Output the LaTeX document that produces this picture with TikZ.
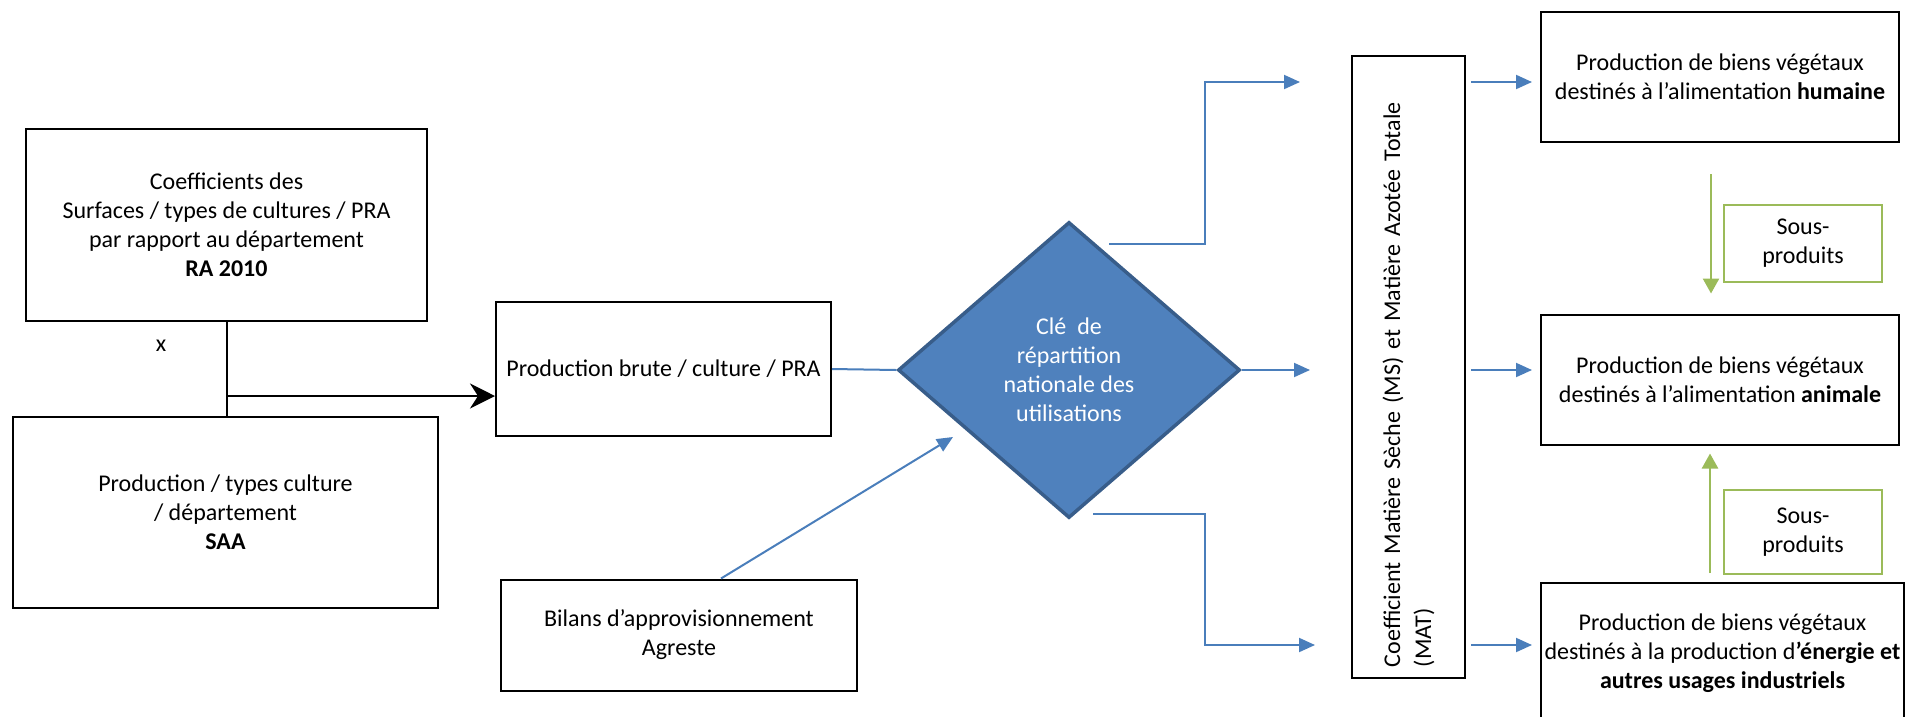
\documentclass[tikz,border=0pt]{standalone}
\usepackage{fontspec}
\setmainfont{Carlito}
\usetikzlibrary{shapes.geometric,arrows.meta,calc}
\definecolor{ablue}{HTML}{4A7EBB}
\definecolor{dfill}{HTML}{4F81BD}
\definecolor{dline}{HTML}{385D8A}
\definecolor{agreen}{HTML}{9BBB59}
\begin{document}
\begin{tikzpicture}[x=1pt,y=-1pt,
  txt/.style={font=\fontsize{24}{29}\selectfont},
  box/.style={draw=black,line width=2pt,align=center,inner sep=0pt,txt},
  gbox/.style={draw=agreen,line width=1.5pt,align=center,inner sep=0pt,minimum width=158pt,txt},
  bline/.style={draw=ablue,line width=2pt},
  barrow/.style={bline,-{Triangle[length=16pt,width=14pt]}},
  garrow/.style={draw=agreen,line width=2.5pt,-{Triangle[length=15pt,width=16pt]}},
  karrow/.style={draw=black,line width=2pt,-{Stealth[length=25pt,width=25pt,inset=8pt]}}]
\useasboundingbox (0,0) rectangle (1906,716);

% left boxes
\node[box,minimum width=401pt,minimum height=192pt] (box1) at (226.5,225)
  {Coefficients des\\Surfaces / types de cultures / PRA\\par rapport au département\\\textbf{RA 2010}};
\node[box,minimum width=425pt,minimum height=191pt] (box2) at (225.5,512.5)
  {Production / types culture\\/ département\\\textbf{SAA}};
\node[box,minimum width=335pt,minimum height=134pt] (box3) at (663.5,369)
  {Production brute / culture / PRA};
\node[box,minimum width=356pt,minimum height=111pt] (box4) at (679,635)
  {Bilans d’approvisionnement\\Agreste};
\node[txt] (xl) at (161,346) {x};

% diamond
\node[diamond,fill=dfill,draw=dline,line width=3.5pt,minimum width=342pt,minimum height=296pt,
  inner sep=0pt,text=white,align=center,txt] (dia) at (1069,370)
  {Clé~~de\\répartition\\nationale des\\utilisations};

% MS box
\node[draw=black,line width=2pt,rotate=90,minimum height=113pt,text width=600pt,inner xsep=11pt,
  align=left,font=\fontsize{24}{31}\selectfont] (MS) at (1408.5,367)
  {Coefficient Matière Sèche (MS) et Matière Azotée Totale\\(MAT)};

% right boxes
\node[box,minimum width=358pt,minimum height=130pt] (R1) at (1720,77)
  {Production de biens végétaux\\destinés à l’alimentation \textbf{humaine}};
\node[box,minimum width=358pt,minimum height=130pt] (R2) at (1720,379.5)
  {Production de biens végétaux\\destinés à l’alimentation \textbf{animale}};
\node[box,minimum width=363pt,minimum height=140pt] (R3) at (1722.5,653)
  {Production de biens végétaux\\destinés à la production d\textbf{’énergie et}\\\textbf{autres usages industriels}};
\node[gbox,minimum height=77pt] (sp1) at (1803,243.5) {Sous-\\produits};
\node[gbox,minimum height=84pt] (sp2) at (1803,532) {Sous-\\produits};

% left connectors
\path (box1.south) ++(0,74) coordinate (J);
\draw[line width=2pt] (box1.south) -- (box1.south |- box2.north);
\draw[karrow] (J) -- (J -| box3.west);

% blue connectors
\draw[bline] (box3.east) -- (dia.west);
\coordinate (q1) at (953,437);
\draw[barrow] ([xshift=42pt]box4.north) -- (q1);
\coordinate (t0) at (1109,244);
\coordinate (t1) at (1300,82);
\draw[barrow] (t0) -- ++(96,0) |- (t1);
\coordinate (m1) at (1310,370);
\draw[barrow] (dia.east) -- (m1);
\coordinate (b0) at (1093,514);
\coordinate (b1) at (1315,645);
\draw[barrow] (b0) -- ++(112,0) |- (b1);

\draw[barrow] ([xshift=5pt]MS.south |- t1) -- ([xshift=-8pt]R1.west |- t1);
\draw[barrow] ([xshift=5pt]MS.south |- m1) -- ([xshift=-8pt]R2.west |- m1);
\draw[barrow] ([xshift=5pt]MS.south |- b1) -- ([xshift=-8pt]R3.west |- b1);

% green arrows
\draw[garrow] ($(R1.south)+(-9,31)$) -- ($(R2.north)+(-9,-20)$);
\draw[garrow] ($(R3.north)+(-12.5,-9)$) -- ($(R2.south)+(-10,8)$);
\end{tikzpicture}
\end{document}
